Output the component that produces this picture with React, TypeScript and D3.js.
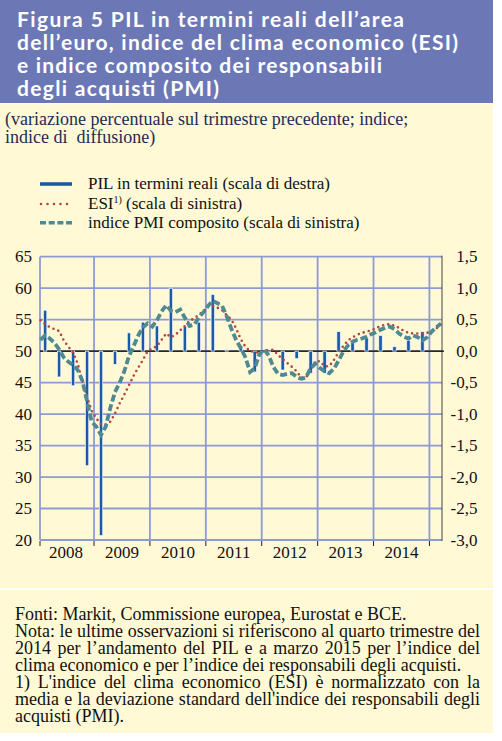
import React, { useLayoutEffect, useRef, useState } from 'react';
import * as d3 from 'd3';

// ---- data ----
const years = ['2008', '2009', '2010', '2011', '2012', '2013', '2014'];

// PIL in termini reali, variazione % trimestrale (scala di destra), 2008Q1–2014Q4
const gdp = [
  0.65, -0.41, -0.55, -1.82,
  -2.93, -0.21, 0.29, 0.46,
  0.40, 1.0, 0.39, 0.46,
  0.9, 0.02, 0.08, -0.33,
  -0.02, -0.3, -0.12, -0.35,
  -0.35, 0.31, 0.14, 0.21,
  0.25, 0.07, 0.17, 0.31,
];

// ESI normalizzato (scala di sinistra), mensile gen 2008 – mar 2015
const esi = [
  54.9, 54.3, 53.8, 53.5, 53.2, 51.7, 50.7, 49.8, 48.0, 45.2, 42.7, 40.5,
  39.3, 38.4, 38.3, 38.8, 40.1, 41.7, 43.1, 44.6, 46.1, 47.4, 48.6, 50.0,
  50.4, 50.8, 51.8, 52.8, 52.2, 52.6, 53.3, 54.0, 54.8, 55.2, 55.8, 56.3,
  57.2, 57.2, 56.9, 56.5, 55.7, 55.0, 53.6, 51.9, 50.7, 50.0, 49.9, 49.7,
  50.0, 50.2, 50.2, 49.4, 48.7, 48.1, 47.5, 46.8, 45.8, 45.8, 47.0, 48.4,
  48.4, 47.6, 47.6, 48.6, 49.8, 50.8, 51.7, 52.2, 52.6, 52.9, 53.1, 53.3,
  53.6, 54.0, 54.2, 54.3, 54.0, 53.7, 53.2, 52.9, 52.8, 52.8, 52.8, 52.9,
  53.2, 53.6, 54.2,
];

// indice PMI composito (scala di sinistra), mensile gen 2008 – mar 2015
const pmi = [
  51.8, 52.5, 52.0, 51.3, 50.3, 49.0, 48.3, 47.8, 47.0, 45.3, 42.0, 38.8,
  38.0, 36.7, 38.0, 41.0, 43.5, 45.0, 46.8, 49.2, 50.8, 52.5, 53.8, 54.4,
  53.9, 54.9, 56.3, 57.3, 56.4, 56.2, 56.6, 55.3, 54.0, 54.2, 55.3, 56.2,
  57.2, 58.0, 57.6, 57.2, 55.5, 53.5, 51.8, 50.5, 49.0, 46.7, 47.3, 49.5,
  50.3, 49.3, 47.5, 46.4, 46.2, 46.4, 46.5, 45.9, 45.6, 45.8, 47.3, 48.0,
  47.3, 46.8, 46.5, 47.2, 48.5, 49.9, 50.9, 51.5, 51.8, 52.0, 52.3, 52.7,
  53.0, 53.4, 53.7, 53.9, 53.5, 52.8, 52.3, 52.0, 52.5, 52.2, 51.7, 52.2,
  53.1, 53.8, 54.4,
];

const leftTicks = [20, 25, 30, 35, 40, 45, 50, 55, 60, 65];
const rightTicks = [-3.0, -2.5, -2.0, -1.5, -1.0, -0.5, 0.0, 0.5, 1.0, 1.5];

const titleLines = [
  'Figura 5 PIL in termini reali dell’area',
  'dell’euro, indice del clima economico (ESI)',
  'e indice composito dei responsabili',
  'degli acquisti (PMI)',
];
const subtitleLines = [
  '(variazione percentuale sul trimestre precedente; indice;',
  'indice di  diffusione)',
];
const legendItems = ['PIL in termini reali (scala di destra)', 'ESI', 'indice PMI composito (scala di sinistra)'];
const footerLines: [string, boolean][] = [
  ['Fonti: Markit, Commissione europea, Eurostat e BCE.', false],
  ['Nota: le ultime osservazioni si riferiscono al quarto trimestre del', true],
  ['2014 per l’andamento del PIL e a marzo 2015 per l’indice del', true],
  ['clima economico e per l’indice dei responsabili degli acquisti.', false],
  ["1) L'indice del clima economico (ESI) è normalizzato con la", true],
  ["media e la deviazione standard dell'indice dei responsabili degli", true],
  ['acquisti (PMI).', false],
];

// ---- style ----
const W = 502;
const H = 741;
const CREAM = '#FFF9D6';
const TITLE_BG = '#6C78B6';
const GRID = '#8E9BD1';
const BAR = '#1D5AA6';
const ESI_C = '#B3463A';
const PMI_C = '#4F8A92';
const SERIF = '"Liberation Serif", "Times New Roman", serif';
const FS = 17;
const FS_NOTE = 18;

const plot = { left: 40, right: 442, top: 256.7, bottom: 540 };

const x = d3.scaleLinear().domain([0.4, 86.7]).range([plot.left, plot.right]);
const yL = d3.scaleLinear().domain([20, 65]).range([plot.bottom, plot.top]);
const yR = d3.scaleLinear().domain([-3, 1.5]).range([plot.bottom, plot.top]);
const fmtR = (v: number) => d3.format('.1f')(v).replace('.', ',').replace('−', '-');

function JustifiedLine({ x: tx, y, width, text, justify }: { x: number; y: number; width: number; text: string; justify: boolean }) {
  const ref = useRef<SVGTextElement>(null);
  const [ws, setWs] = useState(0);
  useLayoutEffect(() => {
    if (!justify || !ref.current) return;
    const el = ref.current;
    el.style.wordSpacing = '0px';
    const natural = el.getComputedTextLength();
    const spaces = (text.match(/ /g) || []).length;
    if (spaces > 0) setWs((width - natural) / spaces);
  }, [text, width, justify]);
  return (
    <text ref={ref} x={tx} y={y} fontFamily={SERIF} fontSize={FS_NOTE} fill="#111" style={{ wordSpacing: `${ws}px` }}>
      {text}
    </text>
  );
}

export default function App() {
  const esiLine = d3
    .line<number>()
    .x((_, i) => x(i + 0.5))
    .y((d) => yL(d));
  const pmiLine = d3
    .line<number>()
    .x((_, i) => x(i + 0.5))
    .y((d) => yL(d));

  const yearBounds = d3.range(1, 8).map((k) => k * 12);
  const barW = 3.4;

  return (
    <svg
      width={W}
      height={H}
      viewBox={`0 0 ${W} ${H}`}
      style={{ position: 'absolute', left: 0, top: 0, display: 'block', background: '#fff' }}
    >
      {/* title */}
      <rect x={0} y={0} width={493} height={103} fill={TITLE_BG} />
      {titleLines.map((t, i) => (
        <text
          key={i}
          x={17}
          y={26.5 + i * 23.2}
          fontFamily='Lato, "Open Sans", sans-serif'
          fontWeight={700}
          fontSize={21}
          fill="#fff"
          textLength={[387, 441, 365, 202][i]}
          lengthAdjust="spacing"
        >
          {t}
        </text>
      ))}

      {/* chart panel */}
      <rect x={0} y={104} width={493} height={484} fill={CREAM} />
      {subtitleLines.map((t, i) => (
        <text key={i} x={5} y={124.5 + i * 18} fontFamily={SERIF} fontSize={FS_NOTE} fill="#1E2B55" style={{ whiteSpace: 'pre' }}>
          {t}
        </text>
      ))}

      {/* legend */}
      <line x1={40} x2={72} y1={184} y2={184} stroke={BAR} strokeWidth={3.6} />
      <line x1={41} x2={72} y1={204} y2={204} stroke={ESI_C} strokeWidth={2.6} strokeDasharray="0 6.5" strokeLinecap="round" />
      <line x1={40} x2={72} y1={222.7} y2={222.7} stroke={PMI_C} strokeWidth={3.6} strokeDasharray="6 2.7" />
      <text x={88} y={189} fontFamily={SERIF} fontSize={FS} fill="#111">
        {legendItems[0]}
      </text>
      <text x={88} y={209} fontFamily={SERIF} fontSize={FS} fill="#111">
        {legendItems[1]}
        <tspan fontSize={10} dy={-6}>1)</tspan>
        <tspan dy={6}> (scala di sinistra)</tspan>
      </text>
      <text x={88} y={228} fontFamily={SERIF} fontSize={FS} fill="#111">
        {legendItems[2]}
      </text>

      {/* grid */}
      {leftTicks.map((v) => (
        <line key={`h${v}`} x1={plot.left} x2={plot.right} y1={yL(v)} y2={yL(v)} stroke={GRID} strokeWidth={1.8} />
      ))}
      {yearBounds.map((m) => (
        <line key={`v${m}`} x1={x(m)} x2={x(m)} y1={plot.top} y2={plot.bottom} stroke={GRID} strokeWidth={1.8} />
      ))}
      <line x1={plot.left} x2={plot.left} y1={plot.top} y2={plot.bottom} stroke={GRID} strokeWidth={1.8} />
      <line x1={plot.right} x2={plot.right} y1={plot.top - 1} y2={plot.bottom + 1} stroke="#444" strokeWidth={1} />
      <line x1={plot.left} x2={plot.right + 2} y1={yL(50)} y2={yL(50)} stroke="#000" strokeWidth={1.4} />

      {/* x ticks and year labels */}
      {[0.4, ...yearBounds].map((m) => (
        <line key={`t${m}`} x1={x(m)} x2={x(m)} y1={plot.bottom + 1} y2={plot.bottom + 6} stroke="#222" strokeWidth={1} />
      ))}
      {years.map((yy, i) => (
        <text key={yy} x={x(i * 12 + 6)} y={557.5} textAnchor="middle" fontFamily={SERIF} fontSize={FS} fill="#111">
          {yy}
        </text>
      ))}

      {/* y labels */}
      {leftTicks.map((v) => (
        <text key={`l${v}`} x={32} y={yL(v) + 5.5} textAnchor="end" fontFamily={SERIF} fontSize={FS} fill="#111">
          {v}
        </text>
      ))}
      {rightTicks.map((v) => (
        <text key={`r${v}`} x={477.5} y={yR(v) + 5.5} textAnchor="end" fontFamily={SERIF} fontSize={FS} fill="#111">
          {fmtR(v)}
        </text>
      ))}

      {/* GDP bars */}
      {gdp.map((v, q) => {
        const cx = x(q * 3 + 1.5);
        const y0 = yR(0);
        const y1 = yR(v);
        return (
          <rect
            key={`b${q}`}
            x={cx - barW / 2}
            y={Math.min(y0, y1)}
            width={barW}
            height={Math.max(Math.abs(y1 - y0), 0.8)}
            fill={BAR}
            stroke="#F4F6FF"
            strokeWidth={0.7}
          />
        );
      })}

      {/* lines */}
      <path d={esiLine(esi) || ''} fill="none" stroke={ESI_C} strokeWidth={2.6} strokeDasharray="0 5.2" strokeLinecap="round" />
      <path d={pmiLine(pmi) || ''} fill="none" stroke={PMI_C} strokeWidth={3.8} strokeDasharray="7 3" />

      {/* footer */}
      <rect x={0} y={590} width={493} height={143} fill={CREAM} />
      {footerLines.map(([t, j], i) => (
        <JustifiedLine key={i} x={15} y={619.5 + i * 17.05} width={465} text={t} justify={j} />
      ))}
    </svg>
  );
}
